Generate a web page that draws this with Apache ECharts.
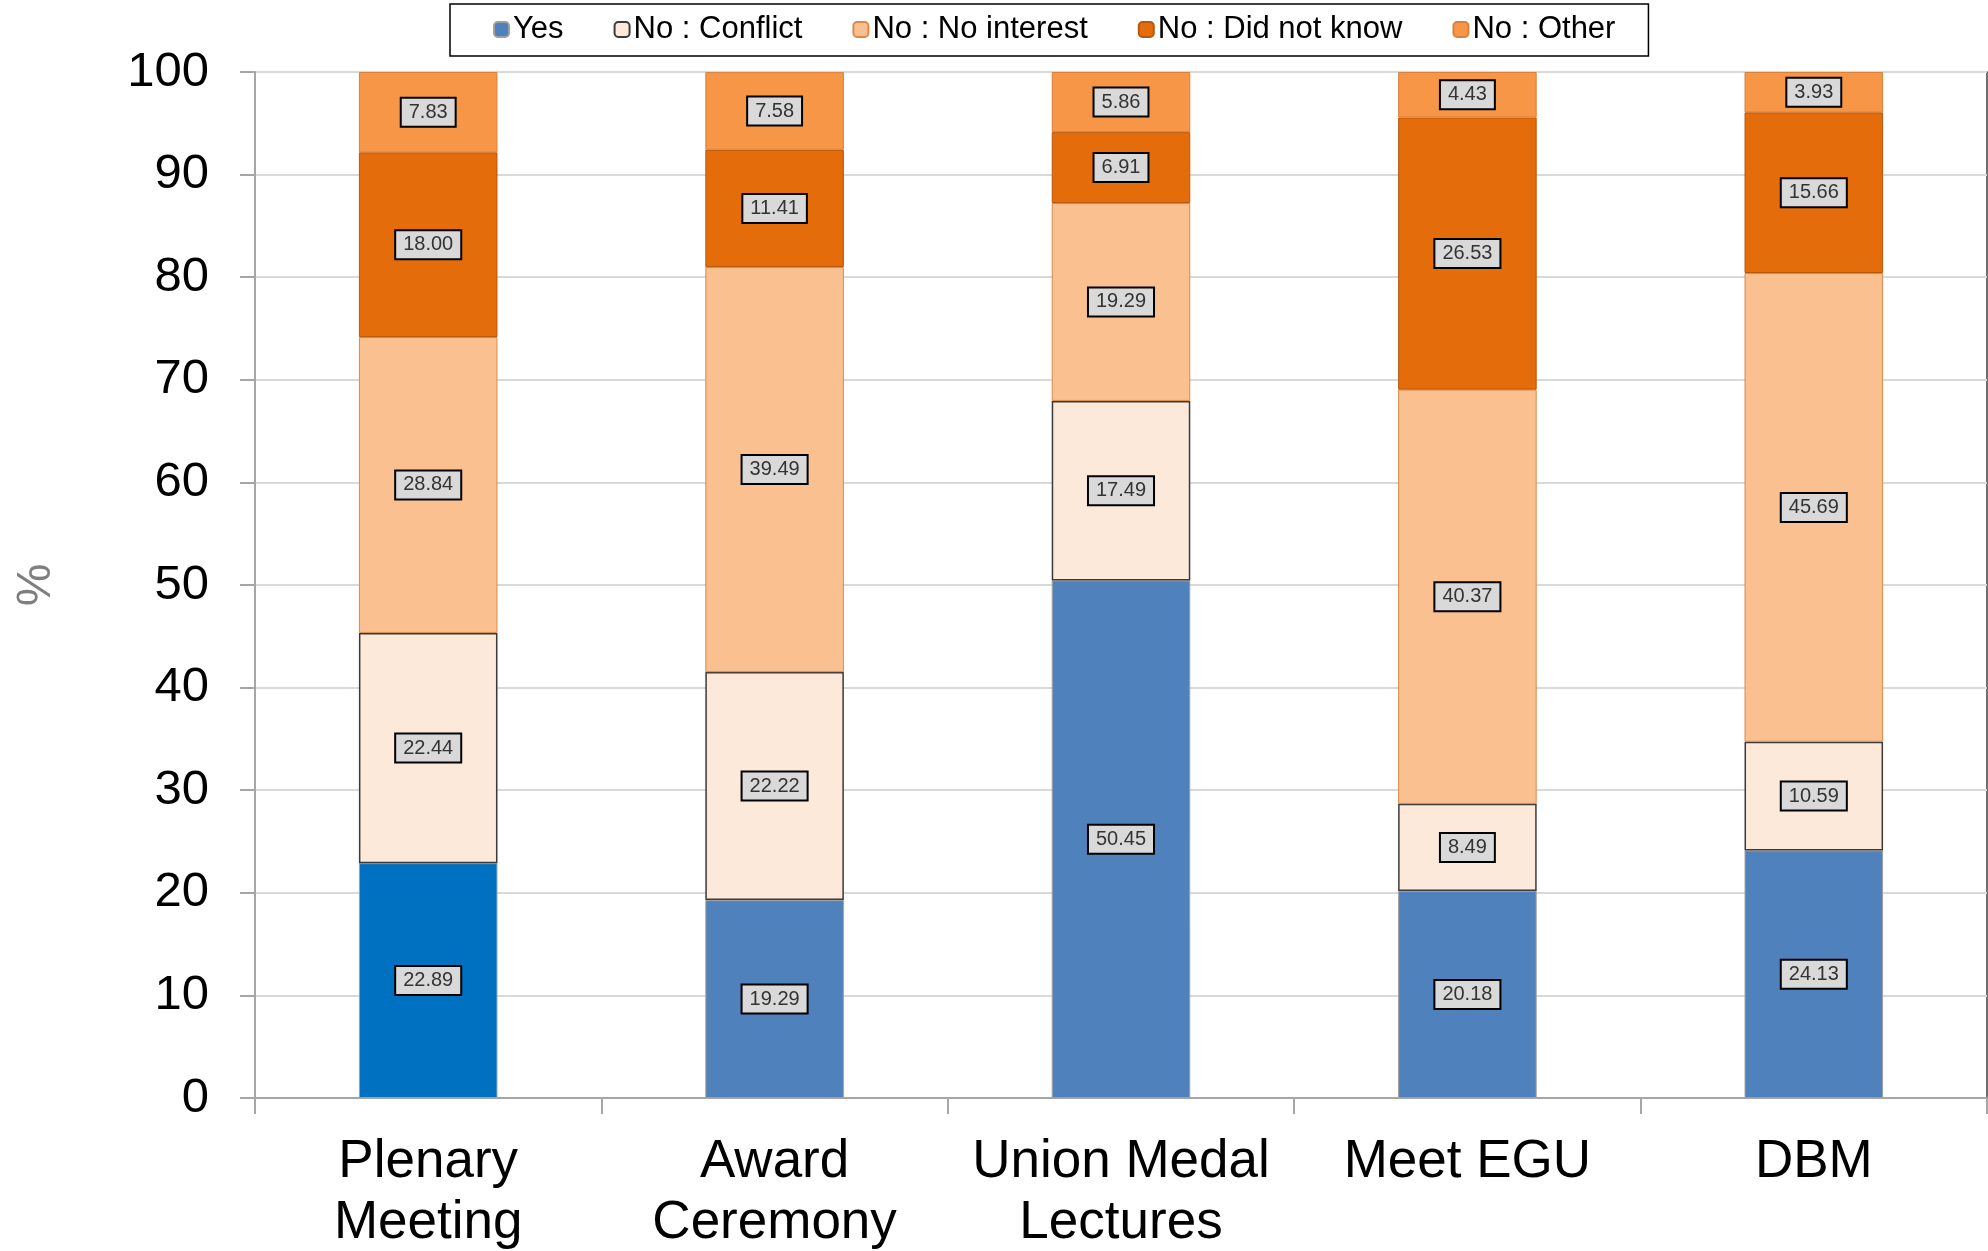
<!DOCTYPE html>
<html>
<head>
<meta charset="utf-8">
<script src="https://cdn.jsdelivr.net/npm/echarts@6/dist/echarts.min.js"></script>
<style>
  html, body { margin: 0; padding: 0; background: #fff; }
  #chart { width: 1988px; height: 1251px; }
</style>
</head>
<body>
<div id="chart"></div>
<script>
// categorías del eje x
var categorias = ['Plenary\nMeeting', 'Award\nCeremony', 'Union Medal\nLectures', 'Meet EGU', 'DBM'];

// valores (%) por respuesta
var yes = [22.89, 19.29, 50.45, 20.18, 24.13];
var noConflict = [22.44, 22.22, 17.49, 8.49, 10.59];
var noInterest = [28.84, 39.49, 19.29, 40.37, 45.69];
var noDidNotKnow = [18.00, 11.41, 6.91, 26.53, 15.66];
var noOther = [7.83, 7.58, 5.86, 4.43, 3.93];

var ticksY = [0, 10, 20, 30, 40, 50, 60, 70, 80, 90, 100];

var fuente = '"Liberation Sans", Arial, sans-serif';

// estilo de las etiquetas de datos
var etiqueta = {
    show: true,
    position: 'inside',
    formatter: function (p) { return Number(p.value).toFixed(2); },
    fontFamily: fuente,
    fontSize: 20,
    color: '#333',
    backgroundColor: '#D9D9D9',
    borderColor: '#000',
    borderWidth: 2,
    padding: [4, 7, 3, 7]
};

function serie(nombre, datos, color, borde, anchoBorde) {
    return {
        name: nombre,
        type: 'bar',
        stack: 'total',
        barWidth: '40%',
        data: datos,
        itemStyle: { color: color, borderColor: borde, borderWidth: anchoBorde },
        label: etiqueta,
        emphasis: { disabled: true }
    };
}

// la barra "Yes" de Plenary Meeting tiene otro azul
var yesDatos = yes.map(function (v, i) {
    if (i === 0) return { value: v, itemStyle: { color: '#0070C0' } };
    return v;
});

var chart = echarts.init(document.getElementById('chart'));
chart.setOption({
    animation: false,
    textStyle: { fontFamily: fuente },
    legend: {
        left: 450,
        top: 4,
        padding: [10, 33, 11, 43],
        itemGap: 50,
        itemWidth: 15,
        itemHeight: 15,
        borderColor: '#000',
        borderWidth: 1.5,
        backgroundColor: '#fff',
        textStyle: { fontFamily: fuente, fontSize: 31, color: '#000', padding: [0, 0, 0, -1] },
        data: ['Yes', 'No : Conflict', 'No : No interest', 'No : Did not know', 'No : Other']
    },
    grid: {
        left: 255,
        right: 1,
        top: 72,
        bottom: 153,
        outerBoundsMode: 'none',
        show: true,
        borderColor: '#404040',
        borderWidth: 1.5
    },
    xAxis: {
        type: 'category',
        data: categorias,
        axisLine: { lineStyle: { color: '#A6A6A6', width: 2 } },
        axisTick: { show: true, length: 16, lineStyle: { color: '#A6A6A6', width: 2 } },
        axisLabel: {
            fontFamily: fuente,
            fontSize: 53,
            color: '#000',
            lineHeight: 61,
            margin: 34,
            interval: 0
        }
    },
    yAxis: {
        type: 'value',
        min: ticksY[0],
        max: ticksY[ticksY.length - 1],
        interval: 10,
        name: '%',
        nameLocation: 'middle',
        nameGap: 194,
        nameRotate: 90,
        nameTextStyle: { fontFamily: fuente, fontSize: 48, color: '#7F7F7F' },
        axisLine: { show: true, lineStyle: { color: '#A6A6A6', width: 2 } },
        axisTick: { show: true, length: 15, inside: false, lineStyle: { color: '#A6A6A6', width: 2 } },
        splitLine: { lineStyle: { color: '#D9D9D9', width: 2 } },
        axisLabel: {
            fontFamily: fuente,
            fontSize: 49,
            color: '#000',
            margin: 46
        }
    },
    series: [
        serie('Yes', yesDatos, '#4F81BD', '#A0A0A0', 1),
        serie('No : Conflict', noConflict, '#FDE9D9', '#3A3A3A', 1.5),
        serie('No : No interest', noInterest, '#FAC090', '#D98A4A', 1),
        serie('No : Did not know', noDidNotKnow, '#E46C0A', '#B8580C', 1),
        serie('No : Other', noOther, '#F79646', '#D9803A', 1)
    ]
});
</script>
</body>
</html>
